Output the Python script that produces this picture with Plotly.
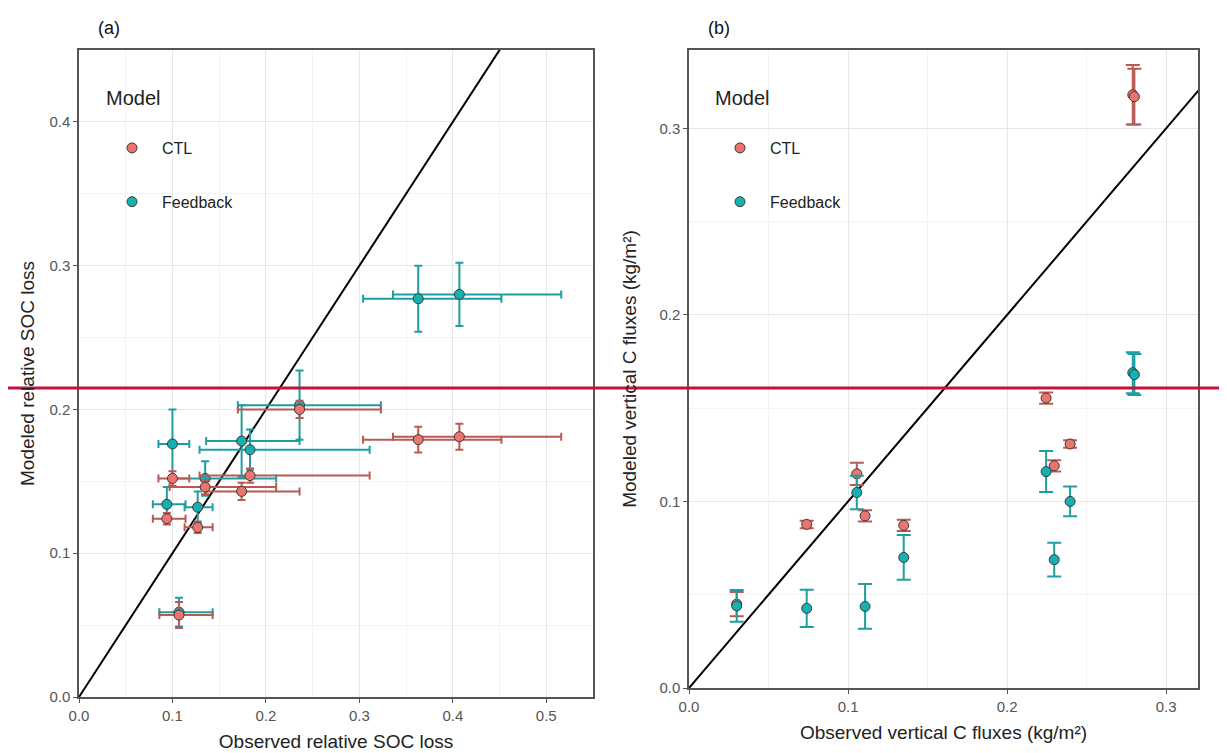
import plotly.graph_objects as go

# ---------------- Panel (a): relative SOC loss ----------------
a_obs = [0.107, 0.094, 0.127, 0.100, 0.135, 0.174, 0.183, 0.236, 0.363, 0.407]
a_obs_lo = [0.086, 0.079, 0.113, 0.085, 0.097, 0.136, 0.129, 0.170, 0.304, 0.336]
a_obs_hi = [0.143, 0.114, 0.143, 0.118, 0.211, 0.236, 0.311, 0.323, 0.452, 0.516]
a_ctl = [0.057, 0.124, 0.118, 0.152, 0.146, 0.143, 0.154, 0.200, 0.179, 0.181]
a_ctl_err = [0.009, 0.004, 0.004, 0.005, 0.005, 0.006, 0.005, 0.006, 0.009, 0.009]
a_fb = [0.059, 0.134, 0.132, 0.176, 0.152, 0.178, 0.172, 0.203, 0.277, 0.280]
a_fb_err = [0.010, 0.012, 0.011, 0.024, 0.012, 0.025, 0.014, 0.024, 0.023, 0.022]

# ---------------- Panel (b): vertical C fluxes ----------------
b_obs = [0.030, 0.074, 0.1055, 0.1107, 0.135, 0.2245, 0.2296, 0.2396, 0.279, 0.280]
b_ctl = [0.045, 0.0877, 0.1148, 0.0923, 0.0872, 0.1554, 0.1191, 0.1308, 0.318, 0.317]
b_ctl_err = [0.0065, 0.002, 0.006, 0.003, 0.003, 0.003, 0.003, 0.002, 0.016, 0.015]
b_fb = [0.044, 0.0427, 0.1048, 0.0437, 0.070, 0.116, 0.0688, 0.100, 0.169, 0.168]
b_fb_err = [0.0085, 0.010, 0.009, 0.012, 0.012, 0.011, 0.009, 0.008, 0.011, 0.011]

one_to_one = [0.0, 0.6]
series_names = ["CTL", "Feedback"]

W, H = 1227, 753
OFF = 8  # default page body margin
FONT = "Liberation Sans, Arial, sans-serif"
CTL_FILL, CTL_BAR = "#EC746E", "#B95A54"
FB_FILL, FB_BAR = "#16AFB2", "#1E9EA1"
OUTLINE = "#3a3a3a"

fig = go.Figure()

# 1:1 lines
fig.add_trace(go.Scatter(x=one_to_one, y=one_to_one, mode="lines", line=dict(color="black", width=2),
                         showlegend=False, hoverinfo="skip", xaxis="x", yaxis="y"))
fig.add_trace(go.Scatter(x=one_to_one, y=one_to_one, mode="lines", line=dict(color="black", width=2),
                         showlegend=False, hoverinfo="skip", xaxis="x2", yaxis="y2"))

def marker(fill):
    return dict(size=10, color=fill, line=dict(color=OUTLINE, width=1))

# panel a: Feedback below, CTL on top
a_xp = [h - x for h, x in zip(a_obs_hi, a_obs)]
a_xm = [x - l for l, x in zip(a_obs_lo, a_obs)]
fig.add_trace(go.Scatter(
    x=a_obs, y=a_fb, mode="markers", name=series_names[1], legendgroup="fb", legend="legend",
    legendrank=2, marker=marker(FB_FILL),
    error_x=dict(type="data", array=a_xp, arrayminus=a_xm, symmetric=False, color=FB_BAR, thickness=2, width=4),
    error_y=dict(type="data", array=a_fb_err, color=FB_BAR, thickness=2, width=4),
    xaxis="x", yaxis="y"))
fig.add_trace(go.Scatter(
    x=a_obs, y=a_ctl, mode="markers", name=series_names[0], legendgroup="ctl", legend="legend",
    legendrank=1, marker=marker(CTL_FILL),
    error_x=dict(type="data", array=a_xp, arrayminus=a_xm, symmetric=False, color=CTL_BAR, thickness=2, width=4),
    error_y=dict(type="data", array=a_ctl_err, color=CTL_BAR, thickness=2, width=4),
    xaxis="x", yaxis="y"))

# panel b
fig.add_trace(go.Scatter(
    x=b_obs, y=b_ctl, mode="markers", name=series_names[0], legendgroup="ctl2", legend="legend2",
    legendrank=1, marker=marker(CTL_FILL),
    error_y=dict(type="data", array=b_ctl_err, color=CTL_BAR, thickness=2, width=7),
    xaxis="x2", yaxis="y2"))
fig.add_trace(go.Scatter(
    x=b_obs, y=b_fb, mode="markers", name=series_names[1], legendgroup="fb2", legend="legend2",
    legendrank=2, marker=marker(FB_FILL),
    error_y=dict(type="data", array=b_fb_err, color=FB_BAR, thickness=2, width=7),
    xaxis="x2", yaxis="y2"))

def px_x(p):
    return (p - OFF) / W

def px_y(p):
    return 1 - (p - OFF) / H

axis_common = dict(
    showline=True, linecolor="#555555", linewidth=1.5, mirror=True, automargin=False,
    ticks="outside", ticklen=4, tickcolor="#555555", tickwidth=1,
    tickfont=dict(family=FONT, size=15, color="#555555"),
    showgrid=True, gridcolor="#E6E6E6", gridwidth=1,
    zeroline=False, tickformat=".1f", dtick=0.1, tick0=0,
    minor=dict(dtick=0.05, showgrid=True, gridcolor="#F3F3F3", gridwidth=1, ticks=""),
    title_font=dict(family=FONT, size=19, color="#222222"),
)

legend_common = dict(xanchor="left", yanchor="top", bgcolor="rgba(0,0,0,0)",
                     font=dict(family=FONT, size=16, color="#222222"),
                     tracegroupgap=30, itemwidth=50, traceorder="grouped")

fig.update_layout(
    width=W, height=H, margin=dict(l=0, r=0, t=0, b=0, autoexpand=False),
    paper_bgcolor="white", plot_bgcolor="white",
    font=dict(family=FONT, color="#222222"),
    xaxis=dict(axis_common, domain=[px_x(79), px_x(593)], range=[0, 0.55],
               title=dict(text="Observed relative SOC loss", standoff=12), anchor="y"),
    yaxis=dict(axis_common, domain=[px_y(697), px_y(50)], range=[0, 0.45],
               title=dict(text="Modeled relative SOC loss", standoff=10), anchor="x"),
    xaxis2=dict(axis_common, domain=[px_x(689), px_x(1198)], range=[0, 0.32],
                title=dict(text="Observed vertical C fluxes (kg/m²)", standoff=12), anchor="y2"),
    yaxis2=dict(axis_common, domain=[px_y(688), px_y(50)], range=[0, 0.342],
                title=dict(text="Modeled vertical C fluxes (kg/m²)", standoff=18), anchor="x2"),
    legend=dict(legend_common, x=px_x(102), y=px_y(131)),
    legend2=dict(legend_common, x=px_x(710), y=px_y(131)),
    annotations=[
        dict(text="(a)", x=px_x(96), y=px_y(28), xref="paper", yref="paper", showarrow=False,
             xanchor="left", yanchor="middle", font=dict(family=FONT, size=18, color="#111111")),
        dict(text="(b)", x=px_x(706), y=px_y(28), xref="paper", yref="paper", showarrow=False,
             xanchor="left", yanchor="middle", font=dict(family=FONT, size=18, color="#111111")),
        dict(text="Model", x=px_x(104), y=px_y(98), xref="paper", yref="paper", showarrow=False,
             xanchor="left", yanchor="middle", font=dict(family=FONT, size=20, color="#222222")),
        dict(text="Model", x=px_x(713), y=px_y(98), xref="paper", yref="paper", showarrow=False,
             xanchor="left", yanchor="middle", font=dict(family=FONT, size=20, color="#222222")),
    ],
    shapes=[
        dict(type="line", xref="paper", yref="paper", x0=0, x1=1, y0=px_y(388), y1=px_y(388),
             line=dict(color="#C4123A", width=3), layer="above"),
    ],
)

fig.write_html("out.html")
